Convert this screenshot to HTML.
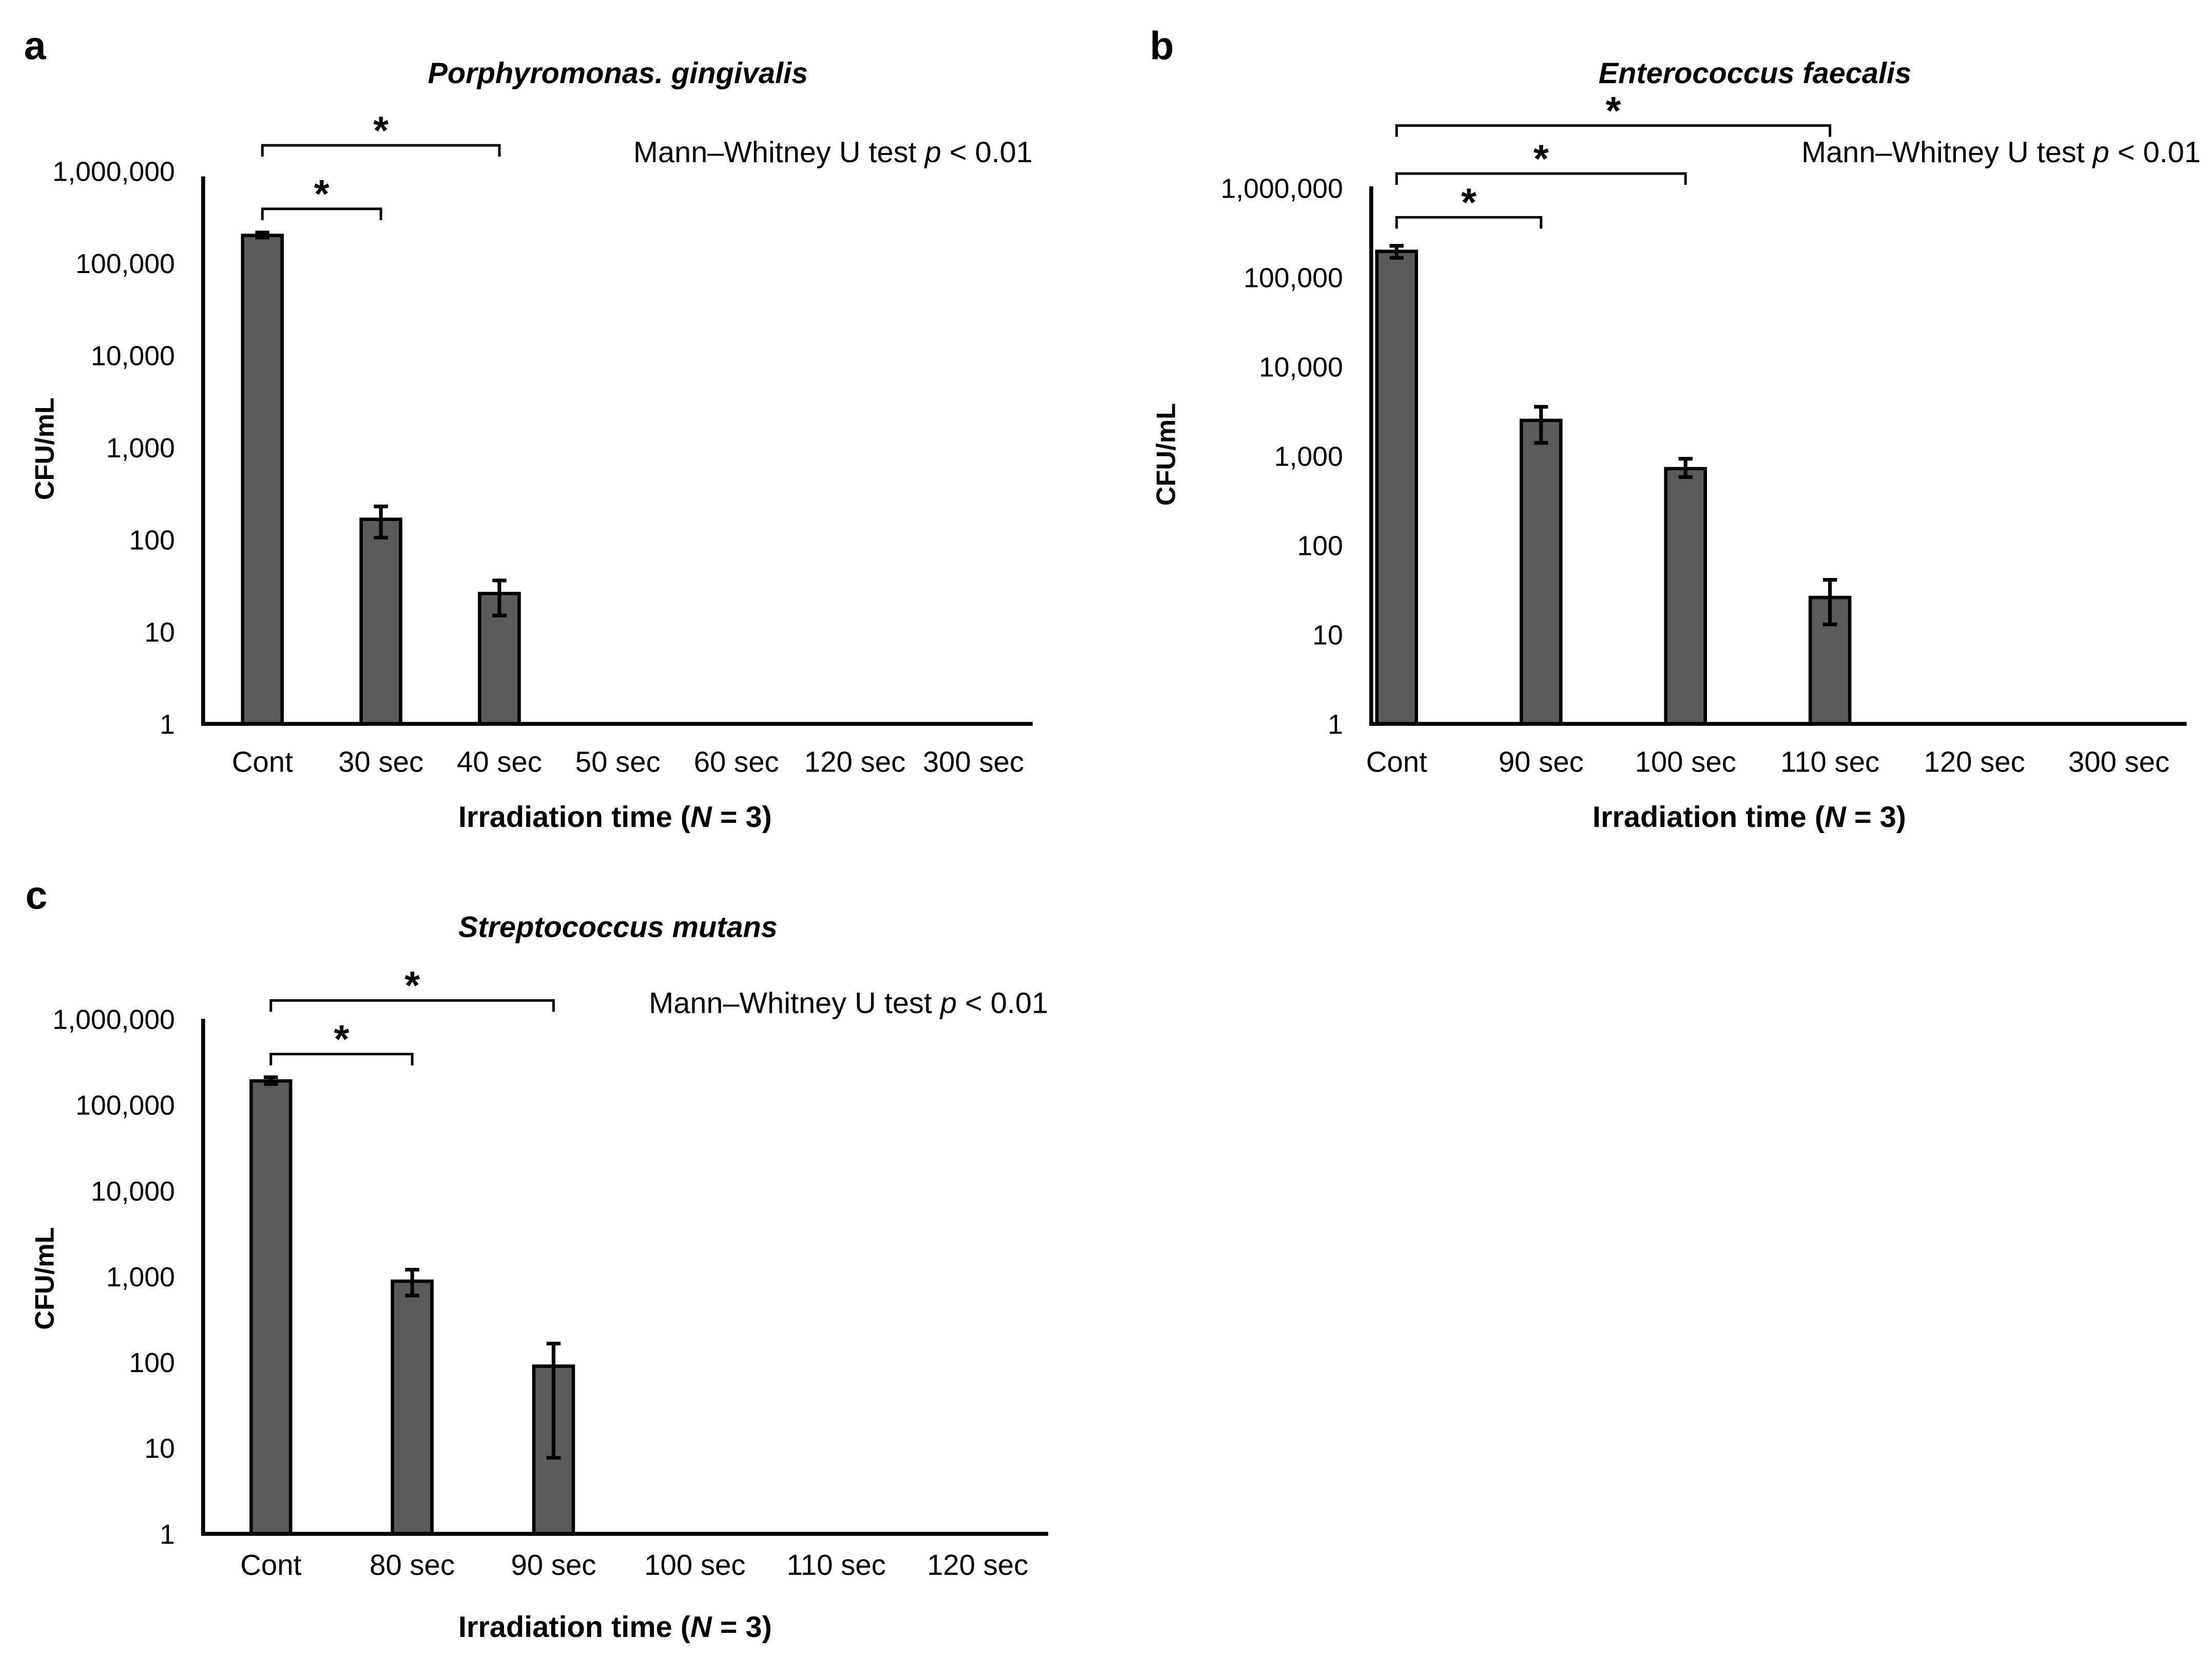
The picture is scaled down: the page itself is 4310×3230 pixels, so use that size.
<!DOCTYPE html>
<html><head><meta charset="utf-8">
<style>
html,body{margin:0;padding:0;background:#fff;}
svg{display:block;}
text{font-family:"Liberation Sans",Arial,sans-serif;fill:#000;}
</style></head>
<body>
<svg id="fig" width="4310" height="3230" viewBox="0 0 1568 1175" preserveAspectRatio="none" xmlns="http://www.w3.org/2000/svg"></svg>
<script>
// Panel a data
const catsA = ["Cont","30 sec","40 sec","50 sec","60 sec","120 sec","300 sec"];
const valsA = [200000,166,26,0,0,0,0];
const errHiA = [215000,229,36,0,0,0,0];
const errLoA = [190000,105,15,0,0,0,0];
// Panel b data
const catsB = ["Cont","90 sec","100 sec","110 sec","120 sec","300 sec"];
const valsB = [195000,2500,720,26,0,0];
const errHiB = [225000,3550,930,41,0,0];
const errLoB = [165000,1400,580,13,0,0];
// Panel c data
const catsC = ["Cont","80 sec","90 sec","100 sec","110 sec","120 sec"];
const valsC = [190000,880,90,0,0,0];
const errHiC = [210000,1200,165,0,0,0];
const errLoC = [175000,600,7.7,0,0,0];
const yTicks = [1,10,100,1000,10000,100000,1000000];
const yTickLabels = ["1","10","100","1,000","10,000","100,000","1,000,000"];

const NS="http://www.w3.org/2000/svg";
const svg=document.getElementById('fig');
function mk(tag,attrs,parent){const e=document.createElementNS(NS,tag);for(const k in attrs)e.setAttribute(k,attrs[k]);(parent||svg).appendChild(e);return e;}
function txt(s,attrs,parent){const e=mk('text',attrs,parent);e.textContent=s;return e;}

function panel(cfg){
  const g=mk('g',{});
  
  
  const {x0,x1,yTop,yBase,decade,cx0,step,cats,vals,hi,lo}=cfg;
  const y=v=>yBase-Math.log10(v)*decade;
  const x=i=>cx0+i*step;
  const l=txt(cfg.letter,{x:cfg.lx,y:cfg.ly,'font-size':28,'font-weight':'bold'},g);
  
  
  const t=txt(cfg.title,{x:cfg.tx,y:cfg.ty,'font-size':21,'font-weight':'bold','font-style':'italic','text-anchor':'middle'},g);
  
  
  cats.forEach((c,i)=>{
    if(vals[i]>0){
      const b=mk('rect',{x:x(i)-14,y:y(vals[i]),width:28,height:yBase-y(vals[i]),fill:'#5b5b5b',stroke:'#000','stroke-width':2.4},g);
      
      
      const eb=mk('path',{d:`M${x(i)},${y(hi[i])}V${y(lo[i])}M${x(i)-5},${y(hi[i])}H${x(i)+5}M${x(i)-5},${y(lo[i])}H${x(i)+5}`,stroke:'#000','stroke-width':2.6,fill:'none'},g);
      
      
    }
    const tl=txt(c,{x:x(i),y:cfg.xly,'font-size':20.5,'text-anchor':'middle'},g);
    
    
  });
  yTicks.forEach((v,i)=>{
    const tl=txt(yTickLabels[i],{x:x0-20,y:y(v)+7,'font-size':19.5,'text-anchor':'end'},g);
    
    
  });
  const ax=mk('path',{d:`M${x0},${yTop}V${yBase}H${x1}`,stroke:'#000','stroke-width':2.8,fill:'none'},g);
  
  
  const yl=txt('CFU/mL',{x:0,y:0,'font-size':19,'font-weight':'bold','text-anchor':'middle',transform:`translate(${cfg.ylx},${cfg.yly}) rotate(-90)`},g);
  
  
  const xl=txt('',{x:cfg.xtx,y:cfg.xty,'font-size':21,'font-weight':'bold','text-anchor':'middle'},g);
  xl.innerHTML='Irradiation time (<tspan font-style="italic">N</tspan> = 3)';
  
  
  const mw=txt('',{x:cfg.mwx,y:cfg.mwy,'font-size':21,'text-anchor':'end'},g);
  mw.innerHTML='Mann–Whitney U test <tspan font-style="italic">p</tspan> &lt; 0.01';
  
  
  cfg.brackets.forEach(([j,by])=>{
    const br=mk('path',{d:`M${x(0)},${by+8}V${by}H${x(j)}V${by+8}`,stroke:'#000','stroke-width':1.8,fill:'none'},g);
    
    
    const st=txt('*',{x:(x(0)+x(j))/2,y:by-1,'font-size':28,'font-weight':'bold','text-anchor':'middle'},g);
    
    
  });
}

panel({letter:'a',lx:17,ly:42,title:'Porphyromonas. gingivalis',tx:438,ty:59,
  x0:144,x1:732,yTop:125,yBase:513,decade:65.3,cx0:186,step:84,
  cats:catsA,vals:valsA,hi:errHiA,lo:errLoA,xly:547,ylx:38,yly:318,xtx:436,xty:586,
  mwx:732,mwy:115,brackets:[[1,148],[2,103]]});
panel({letter:'b',lx:815,ly:42,title:'Enterococcus faecalis',tx:1244,ty:59,
  x0:972,x1:1550,yTop:132,yBase:513,decade:63.3,cx0:990,step:102.4,
  cats:catsB,vals:valsB,hi:errHiB,lo:errLoB,xly:547,ylx:833,yly:322,xtx:1240,xty:586,
  mwx:1560,mwy:115,brackets:[[1,154],[2,123],[3,89]]});
panel({letter:'c',lx:18,ly:644,title:'Streptococcus mutans',tx:438,ty:664,
  x0:144,x1:743,yTop:722,yBase:1087,decade:60.8,cx0:192,step:100.2,
  cats:catsC,vals:valsC,hi:errHiC,lo:errLoC,xly:1116,ylx:38,yly:906,xtx:436,xty:1160,
  mwx:743,mwy:718,brackets:[[1,747],[2,709]]});
</script>
</body></html>
